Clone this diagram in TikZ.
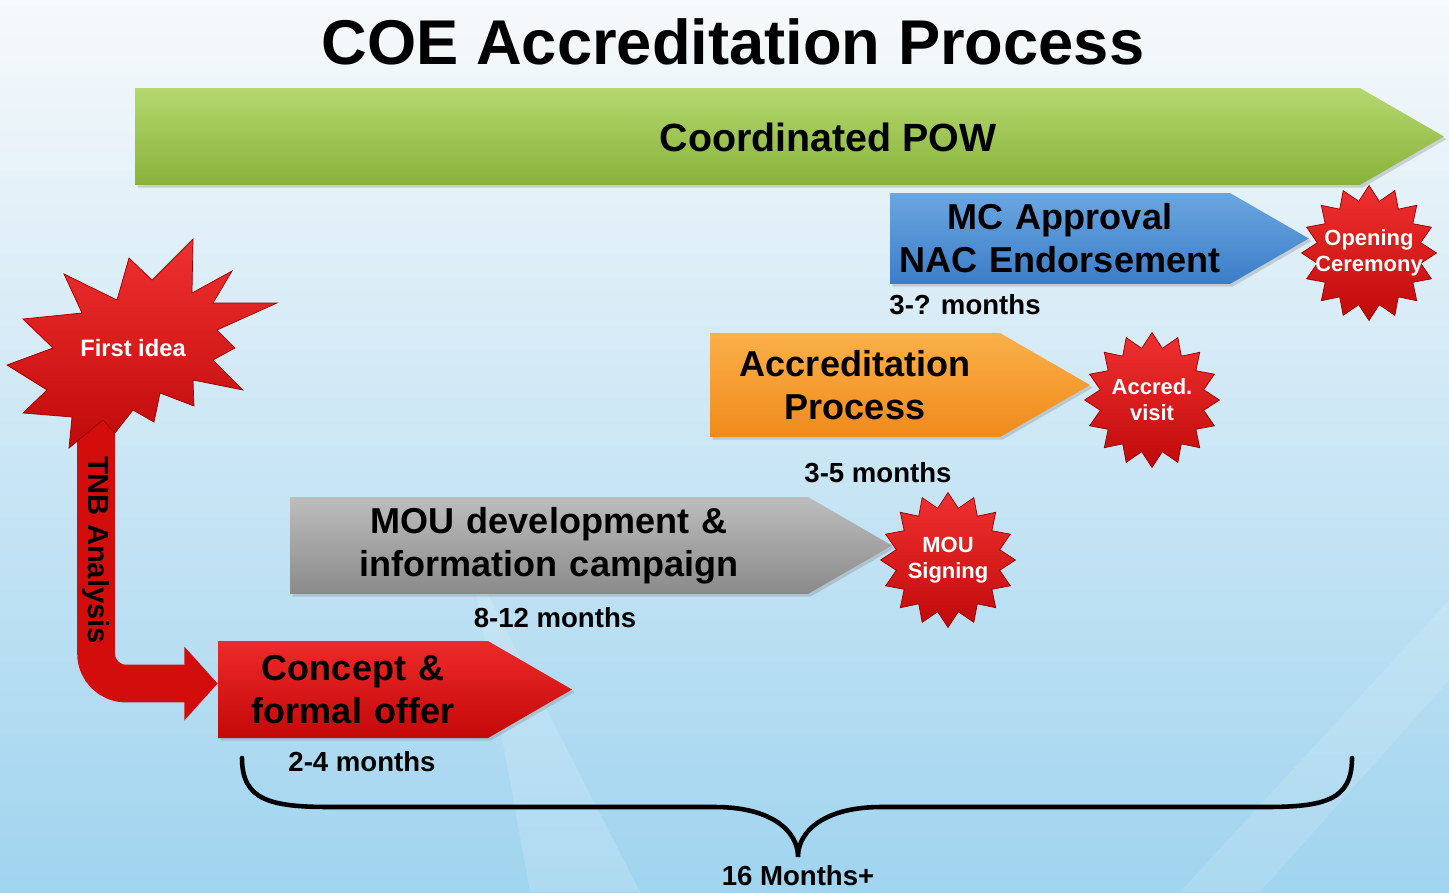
\documentclass[tikz,border=0pt]{standalone}
\usepackage{fontspec}
\setmainfont{Liberation Sans}
\usepackage{tikz}
\usetikzlibrary{shapes.symbols}
\usetikzlibrary{shapes.geometric}
\usetikzlibrary{arrows.meta}
\usetikzlibrary{shadows}
\definecolor{bgtop}{HTML}{F7F9FB}
\definecolor{bgmid}{HTML}{E5F0F8}
\definecolor{bgbot}{HTML}{A0D4EF}
\definecolor{powtop}{HTML}{B5D86E}
\definecolor{powbot}{HTML}{88B23A}
\definecolor{mctop}{HTML}{6AA6E0}
\definecolor{mcbot}{HTML}{3B7DC8}
\definecolor{accrtop}{HTML}{FBB04A}
\definecolor{accrbot}{HTML}{F08A1A}
\definecolor{moutop}{HTML}{BDBDBD}
\definecolor{moubot}{HTML}{8A8A8A}
\definecolor{concepttop}{HTML}{EE2A2A}
\definecolor{conceptbot}{HTML}{C40808}
\definecolor{burstlight}{HTML}{F03030}
\definecolor{burstdark}{HTML}{C00A0A}
\definecolor{burstedge}{HTML}{9A0000}
\definecolor{tnbred}{HTML}{D30C0C}
\tikzset{phasebox/.style={signal, signal to=east, signal pointer angle=60, inner sep=0pt, align=center, font=\fontsize{20.5}{24.5}\selectfont\bfseries, drop shadow={opacity=0.3, shadow xshift=1.5pt, shadow yshift=-1.5pt}}}
\tikzset{burst/.style={star, star points=16, star point ratio=1.28, minimum size=2.7cm, inner sep=0pt, top color=burstlight, bottom color=burstdark, draw=burstedge, thin}}
\tikzset{bursttext/.style={text=white, align=center, font=\fontsize{12.5}{14.8}\selectfont\bfseries}}
\tikzset{monthlabel/.style={font=\fontsize{15.7}{18}\selectfont\bfseries}}

\begin{document}
\begin{tikzpicture}[x=0.02cm, y=-0.02cm]
                \useasboundingbox (0,0) rectangle (1449,892);
                \shade[top color=bgtop, middle color=bgmid, bottom color=bgbot] (0,0) rectangle (1449,892);
                \fill[white, opacity=0.15] (530,892) -- (640,892) -- (470,560) -- cycle;
                \fill[white, opacity=0.12] (1180,892) -- (1449,600) -- (1449,680) -- (1260,892) -- cycle;

                \node[font=\fontsize{36}{40}\selectfont\bfseries] (title) at (733,42) {COE Accreditation Process};

                \node[phasebox, text width=24.5cm, minimum height=1.94cm, top color=powtop, bottom color=powbot] (pow) at (747.5,136.5) {};
                \node[font=\fontsize{22.4}{26}\selectfont\bfseries] (powtext) at (828,137) {Coordinated POW};
                \node[phasebox, text width=6.8cm, minimum height=1.82cm, top color=mctop, bottom color=mcbot] (mc) at (1060,238.5) {MC Approval\\NAC Endorsement};
                \node[phasebox, text width=5.8cm, minimum height=2.08cm, top color=accrtop, bottom color=accrbot] (accr) at (855,385) {Accreditation\\Process};
                \node[phasebox, text width=10.36cm, minimum height=1.94cm, top color=moutop, bottom color=moubot] (mou) at (549,545.5) {MOU development \&\\information campaign};
                \node[phasebox, text width=5.4cm, minimum height=1.94cm, top color=concepttop, bottom color=conceptbot] (concept) at (353,689.5) {Concept \&\\formal offer};

                \node[monthlabel] (mc months) at (965,305) {3-? months};
                \node[monthlabel] (accr months) at (878,473) {3-5 months};
                \node[monthlabel] (mou months) at (555,618) {8-12 months};
                \node[monthlabel] (concept months) at (362,762) {2-4 months};

                \node[burst, label={[bursttext]center:Opening\\Ceremony}] (open) at (1369,253) {};
                \node[burst, label={[bursttext]center:Accred.\\visit}] (visit) at (1152,400) {};
                \node[burst, label={[bursttext]center:MOU\\Signing}] (signing) at (948,560) {};

                % first idea with the TNB arrow
                \node[text=white, font=\fontsize{13.5}{16}\selectfont\bfseries] (first) at (133,348) {First idea};
                \draw[line width=21.5pt, tnbred, rounded corners=17pt, -{Triangle[length=19pt, width=41pt]}] ([xshift=-21pt]first.center) |- ([yshift=3.4pt]concept.west);
                \shade[top color=burstlight, bottom color=burstdark, draw=burstedge] (193,239) -- (192,293) -- (232,271) -- (213,303) -- (277,303) -- (217,330) -- (235,348) -- (213,360) -- (243,390) -- (193,380) -- (194,406) -- (160,393) -- (154,422) -- (133,410) -- (115,433) -- (103,420) -- (69,448) -- (72,417) -- (23,413) -- (47,390) -- (7,365) -- (53,348) -- (23,319) -- (82,313) -- (64,274) -- (117,300) -- (129,258) -- (152,280) -- cycle;
                \node[text=white, font=\fontsize{13.5}{16}\selectfont\bfseries] at (first) {First idea};
                \node[rotate=-90, font=\fontsize{16.6}{20}\selectfont\bfseries] (tnb) at (96,550) {TNB Analysis};

                % brace
                \coordinate (brace left) at (242,758);
                \coordinate (brace right) at (1352,758);
                \coordinate (brace tip) at (798,857);
                \draw[line width=2.6pt, line cap=round] (brace left) .. controls (242,800) and (270,807) .. (330,807) -- (715,807) .. controls (770,807) and (798,830) .. (brace tip) .. controls (798,830) and (826,807) .. (881,807) -- (1265,807) .. controls (1325,807) and (1352,800) .. (brace right);
                \node[monthlabel] (total) at (798,876) {16 Months+};
\end{tikzpicture}
\end{document}
